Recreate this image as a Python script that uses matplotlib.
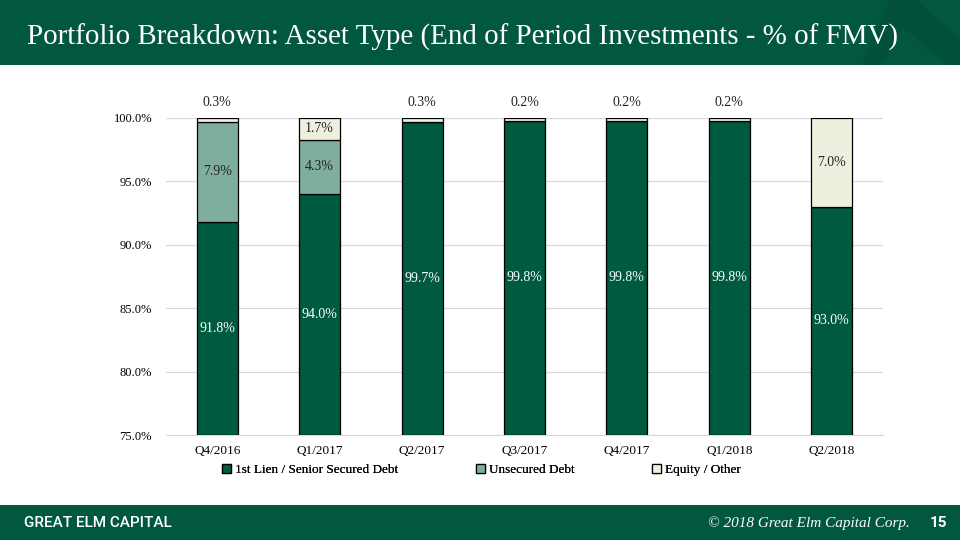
import matplotlib
matplotlib.use("Agg")
import matplotlib.pyplot as plt
from matplotlib.patches import Rectangle, Polygon
import numpy as np

categories = ["Q4/2016", "Q1/2017", "Q2/2017", "Q3/2017", "Q4/2017", "Q1/2018", "Q2/2018"]
first_lien = [91.8, 94.0, 99.7, 99.8, 99.8, 99.8, 93.0]
unsecured = [7.9, 4.3, 0.0, 0.0, 0.0, 0.0, 0.0]
equity = [0.3, 1.7, 0.3, 0.2, 0.2, 0.2, 7.0]
series_names = ["1st Lien / Senior Secured Debt", "Unsecured Debt", "Equity / Other"]
yticks = [75.0, 80.0, 85.0, 90.0, 95.0, 100.0]

GREEN = "#02573F"
DARK = "#01503A"
C1 = "#005a3f"
C2 = "#7fae9e"
C3 = "#eef0df"
SERIF = ["Liberation Serif", "DejaVu Serif"]

fig = plt.figure(figsize=(9.6, 5.4), dpi=100)

# header band
hdr = fig.add_axes([0, 1 - 65 / 540, 1, 65 / 540])
hdr.set_xlim(0, 960); hdr.set_ylim(65, 0); hdr.axis("off")
hdr.add_patch(Rectangle((0, 0), 960, 65, color=GREEN))
hdr.add_patch(Polygon([(862, 65), (890, 0), (915, 0), (960, 40), (960, 65)], color=DARK))
hdr.add_patch(Polygon([(882, 65), (903, 28), (946, 65)], color=GREEN))
hdr.text(27, 37, "Portfolio Breakdown: Asset Type (End of Period Investments - % of FMV)",
         color="white", fontsize=20.9, family=SERIF, va="center", ha="left")

# footer band
ftr = fig.add_axes([0, 0, 1, 35 / 540])
ftr.set_xlim(0, 960); ftr.set_ylim(35, 0); ftr.axis("off")
ftr.add_patch(Rectangle((0, 0), 960, 35, color=GREEN))
ftr.text(24, 18, "GREAT ELM CAPITAL", color="white", fontsize=11, family="Roboto",
         fontweight="medium", va="center", ha="left")
ftr.text(910, 18, "© 2018 Great Elm Capital Corp.", color="white", fontsize=11, family=SERIF,
         style="italic", va="center", ha="right")
ftr.text(938, 18, "15", color="white", fontsize=11, family="Roboto", fontweight="bold",
         va="center", ha="center")

# main chart
ax = fig.add_axes([166 / 960, 1 - 435 / 540, (883 - 166) / 960, (435 - 118) / 540])
x = np.arange(len(categories))
w = 0.4
base = 75.0
b1 = ax.bar(x, np.array(first_lien) - base, w, bottom=base, color=C1, edgecolor="black",
            linewidth=0.9, label=series_names[0], zorder=3)
b2 = ax.bar(x, unsecured, w, bottom=first_lien, color=C2, edgecolor="black",
            linewidth=0.9, label=series_names[1], zorder=3)
bot3 = np.array(first_lien) + np.array(unsecured)
b3 = ax.bar(x, equity, w, bottom=bot3, color=C3, edgecolor="black",
            linewidth=0.9, label=series_names[2], zorder=3)

ax.set_ylim(75, 100)
ax.set_xlim(-0.5, len(categories) - 0.5)
ax.set_yticks(yticks)
ax.set_yticklabels([f"{v:.1f}%" for v in yticks], family=SERIF, fontsize=9)
ax.set_xticks(x)
ax.set_xticklabels(categories, family=SERIF, fontsize=9.5)
ax.tick_params(axis="y", length=0, pad=10)
ax.tick_params(axis="x", length=0, pad=7)
ax.grid(axis="y", color="#d9d9d9", linewidth=0.9, zorder=0)
for s in ["top", "right", "left"]:
    ax.spines[s].set_visible(False)
ax.spines["bottom"].set_color("#d9d9d9")

for i in range(len(categories)):
    ax.text(x[i], (base + first_lien[i]) / 2, f"{first_lien[i]:.1f}%", color="white",
            ha="center", va="center", fontsize=10, family=SERIF, zorder=4)
    if unsecured[i] > 0:
        ax.text(x[i], first_lien[i] + unsecured[i] / 2, f"{unsecured[i]:.1f}%", color="#222222",
                ha="center", va="center", fontsize=10, family=SERIF, zorder=4)
    if equity[i] >= 1.0:
        ax.text(x[i], bot3[i] + equity[i] / 2, f"{equity[i]:.1f}%", color="#222222",
                ha="center", va="center", fontsize=10, family=SERIF, zorder=4)
    else:
        ax.text(x[i], 101.2, f"{equity[i]:.1f}%", color="#222222",
                ha="center", va="center", fontsize=10, family=SERIF, zorder=4, clip_on=False)

# legend entries placed individually
leg_x = [222 / 960, 476 / 960, 652 / 960]
for h, name, lx in zip([b1, b2, b3], series_names, leg_x):
    lg = fig.legend(handles=[h], labels=[name], loc="center left",
                    bbox_to_anchor=(lx, 1 - 470 / 540), frameon=False, borderpad=0,
                    borderaxespad=0, prop={"family": SERIF, "size": 9.5},
                    handlelength=0.7, handleheight=0.7, handletextpad=0.3)
    fig.add_artist(lg)

fig.savefig("out.png", dpi=100)
